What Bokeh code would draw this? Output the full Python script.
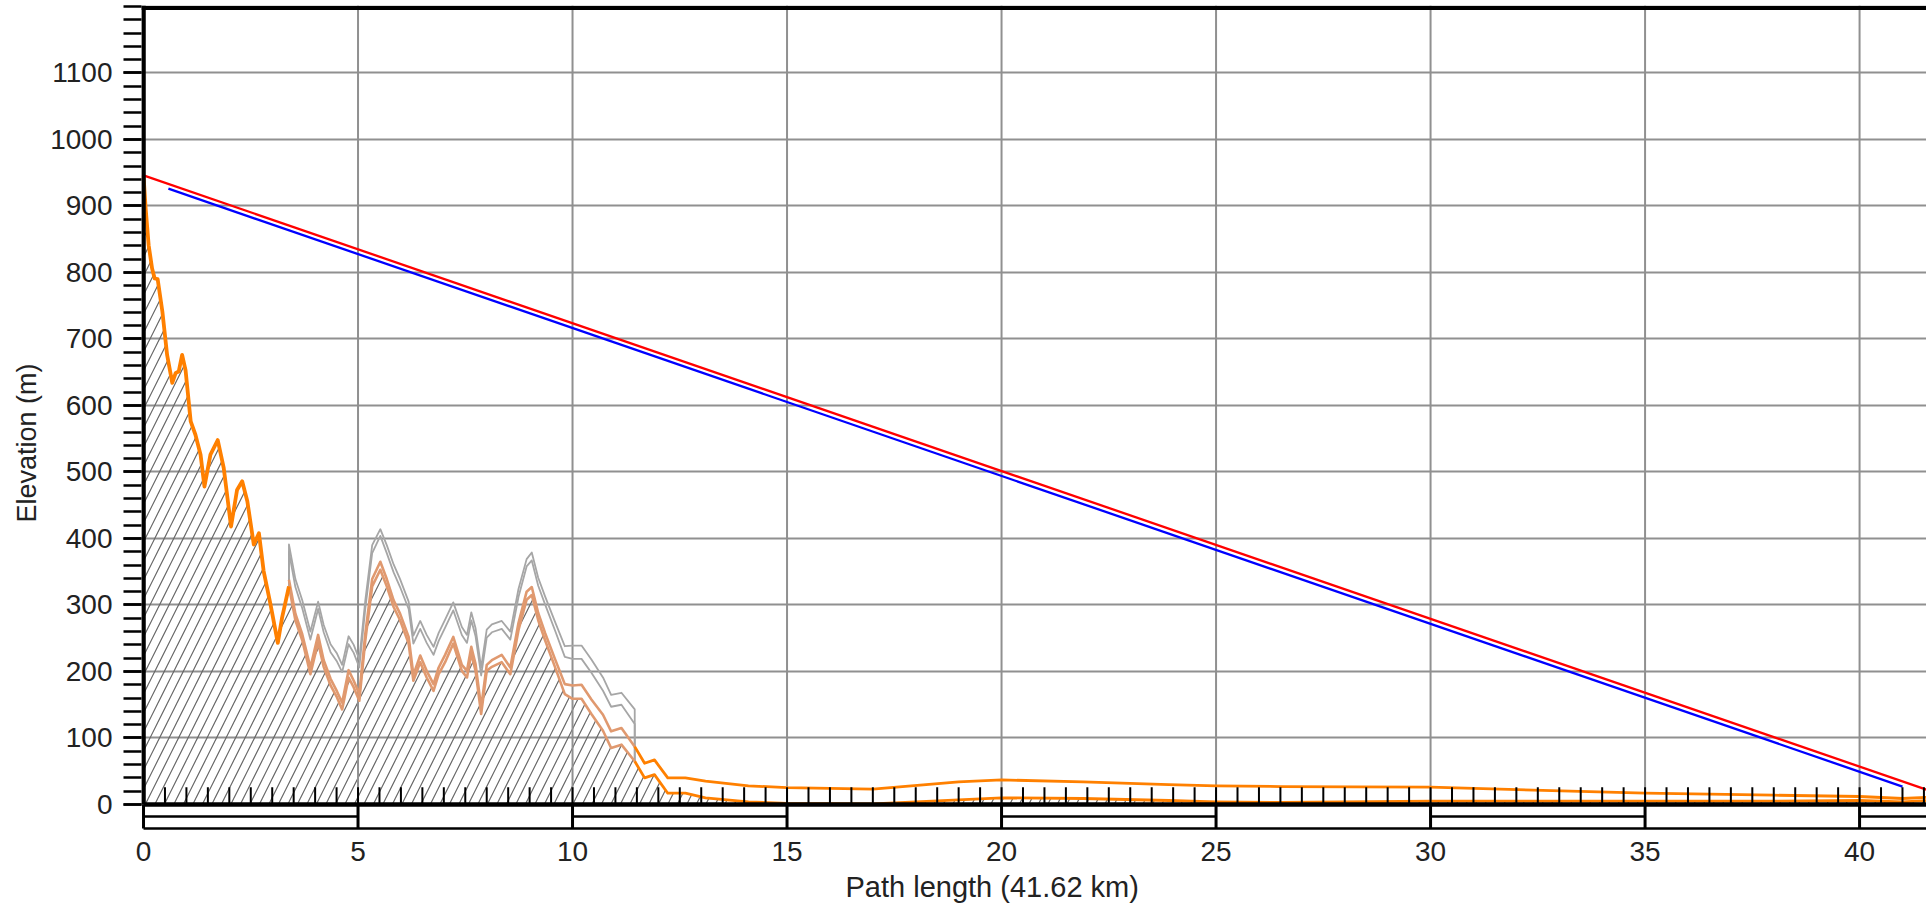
import numpy as np
from bokeh.plotting import figure
from bokeh.models import Range1d, FixedTicker, Title
from bokeh.embed import file_html
from bokeh.resources import INLINE

# ---------------- data ----------------
path_km = [0.00, 0.05, 0.12, 0.20, 0.26, 0.33, 0.44, 0.55, 0.67, 0.75,
           0.82, 0.90, 0.98, 1.10, 1.21, 1.33, 1.42, 1.56, 1.73, 1.87,
           2.04, 2.18, 2.30, 2.42, 2.57, 2.69, 2.80, 2.96, 3.13, 3.23,
           3.39,
           3.54, 3.70, 3.89, 4.07, 4.20, 4.36, 4.51, 4.63, 4.78, 4.90,
           5.03, 5.17, 5.33, 5.52, 5.67, 5.83, 5.98, 6.18, 6.29, 6.45,
           6.60, 6.76, 6.88, 7.03, 7.22, 7.42, 7.54, 7.64, 7.74, 7.87,
           8.00, 8.12, 8.35, 8.55, 8.74, 8.93, 9.05, 9.20, 9.36, 9.59,
           9.82, 10.00, 10.21, 10.44, 10.71, 10.90, 11.14, 11.45,
           11.68, 11.91, 12.22, 12.63, 13.10, 14.10, 15.00, 17.00, 19.00, 20.00,
           21.90, 23.90, 25.00, 26.50, 30.00, 35.00, 38.00, 40.00, 41.00, 41.62]

terrain_m = [946, 896, 841, 806, 791, 790, 741, 676, 634, 649,
             651, 676, 653, 576, 556, 526, 478, 526, 548, 506,
             418, 473, 486, 456, 391, 408, 351, 301, 243, 281,
             328,
             277, 247, 196, 244, 207, 179, 161, 143, 191, 176,
             156, 247, 328, 353, 328, 297, 277, 242, 186, 214,
             191, 171, 196, 214, 242, 201, 191, 227, 201, 136,
             201, 207, 214, 196, 262, 308, 315, 277, 247, 207,
             166, 159, 159, 136, 111, 85, 90, 65,
             40, 45, 17, 17, 10, 4, 1.5, 1, 7, 10,
             9, 6, 4, 3, 5, 5, 5, 6, 4, 6]

# second profile line above the terrain, from 3.39 km to the end (m above terrain)
upper_offset_m = [10,
                  10, 9, 10, 11, 10, 10, 9, 10, 11, 10,
                  10, 10, 11, 12, 11, 10, 10, 10, 9, 10,
                  10, 10, 10, 11, 10, 9, 10, 10, 10, 10,
                  9, 10, 11, 10, 11, 12, 12, 11, 11, 12,
                  15, 20, 21, 22, 24, 25, 25, 22,
                  22, 22, 23, 23, 25, 24, 24, 22, 27, 27,
                  25, 24, 24, 24, 21, 12, 9, 6, 5, 5]

# grey clutter lines from 3.39 km to 11.45 km (m above terrain)
gray_low_offset_m = [52, 50, 48, 52, 50, 52, 50, 54, 56, 50,
                     52, 50, 48, 50, 51, 50, 52, 50, 52, 56,
                     50, 52, 54, 50, 52, 50, 54, 52, 50, 52,
                     58, 50, 52, 50, 52, 50, 50, 52, 52, 54,
                     55, 56, 60, 60, 62, 60, 62, 60, 56]
gray_high_offset_m = [63, 62, 60, 64, 61, 63, 62, 66, 67, 62,
                      64, 62, 60, 62, 61, 62, 64, 62, 63, 68,
                      62, 64, 66, 62, 64, 62, 66, 64, 62, 64,
                      70, 62, 64, 62, 64, 62, 61, 64, 64, 66,
                      68, 72, 80, 80, 82, 80, 80, 78, 78]

red_km = [0.0, 41.62]
red_m = [946, 21]
blue_km = [0.58, 41.0]
blue_m = [926, 27]

x_tick_km = [0, 5, 10, 15, 20, 25, 30, 35, 40]
y_tick_m = [0, 100, 200, 300, 400, 500, 600, 700, 800, 900, 1000, 1100]
y_minor_tick_m = list(range(0, 1201, 20))
x_inner_tick_km = [0.5 * i for i in range(1, 84)]
scale_bar_km = [0, 5, 10, 15, 20, 25, 30, 35, 40, 41.62]

x_title = "Path length (41.62 km)"
y_title = "Elevation (m)"

# ---------------- build ----------------
km = np.array(path_km)
T = np.array(terrain_m, dtype=float)
ia = path_km.index(3.39)
ib = path_km.index(11.45)
U = T[ia:] + np.array(upper_offset_m)
kmU = km[ia:]
G_low = T[ia:ib + 1] + np.array(gray_low_offset_m)
G_high = T[ia:ib + 1] + np.array(gray_high_offset_m)
kmG = list(km[ia:ib + 1])

Y_TOP = 1201.5
Y_BOT = -39.1
SB_MID = -18
SB_BOT = -36

p = figure(width=1926, height=909,
           x_range=Range1d(-0.047, 41.56), y_range=Range1d(Y_BOT, Y_TOP),
           output_backend="svg", toolbar_location=None,
           min_border_left=141, min_border_right=0, min_border_top=5,
           min_border_bottom=79)
p.outline_line_color = None
p.background_fill_color = "white"
p.border_fill_color = "white"

FONT = "Liberation Sans"
TXT = "#222222"

# axes
xa = p.xaxis[0]
xa.ticker = FixedTicker(ticks=x_tick_km, minor_ticks=[])
xa.axis_line_color = None
xa.major_tick_line_color = None
xa.minor_tick_line_color = None
xa.major_tick_out = 0
xa.major_tick_in = 0
xa.minor_tick_out = 0
xa.minor_tick_in = 0
xa.major_label_text_font = FONT
xa.major_label_text_font_size = "28px"
xa.major_label_text_color = TXT
xa.major_label_standoff = 11

ya = p.yaxis[0]
ya.ticker = FixedTicker(ticks=y_tick_m, minor_ticks=y_minor_tick_m)
ya.axis_line_color = None
ya.major_tick_line_color = "black"
ya.minor_tick_line_color = "black"
ya.major_tick_line_width = 2.5
ya.minor_tick_line_width = 2.5
ya.major_tick_out = 18
ya.major_tick_in = 0
ya.minor_tick_out = 18
ya.minor_tick_in = 0
ya.major_label_text_font = FONT
ya.major_label_text_font_size = "28px"
ya.major_label_text_color = TXT
ya.major_label_standoff = 11

# axis titles as side titles (so they can be shifted along the axis)
p.add_layout(Title(text=x_title, align="left", offset=704, standoff=10,
                   text_font=FONT, text_font_size="29px", text_font_style="normal",
                   text_color=TXT), "below")
p.add_layout(Title(text=y_title, align="left", offset=308, standoff=12,
                   text_font=FONT, text_font_size="27px", text_font_style="normal",
                   text_color=TXT), "left")

p.xgrid.visible = False
p.ygrid.ticker = FixedTicker(ticks=y_tick_m, minor_ticks=[])
p.ygrid.grid_line_color = "#909090"
p.ygrid.grid_line_width = 2

GRID = "#909090"

# hatched terrain
p.varea(x=km, y1=0, y2=T, fill_color=None, fill_alpha=0,
        hatch_pattern="/", hatch_color="#666666", hatch_weight=1.2, hatch_scale=19)

# vertical grid lines
vx = x_tick_km[1:]
p.segment(x0=vx, y0=[0] * len(vx), x1=vx, y1=[Y_TOP] * len(vx),
          line_color=GRID, line_width=2)

# grey clutter lines
for G in (G_low, G_high):
    gx = [km[ia]] + kmG + [km[ib]]
    gy = [T[ia]] + list(G) + [T[ib]]
    p.line(gx, gy, line_color="#a6a6a6", line_width=1.8, line_join="round")

# tan parts (under clutter)
TAN = "#e0996f"
p.line(km[ia:ib + 1], T[ia:ib + 1], line_color=TAN, line_width=2.6, line_join="round")
p.line(kmU[:ib - ia + 1], U[:ib - ia + 1], line_color=TAN, line_width=2.6, line_join="round")

# orange parts
ORANGE = "#ff8000"
p.line(km[:ia + 1], T[:ia + 1], line_color=ORANGE, line_width=3.8, line_join="round")
p.line(km[ib:], T[ib:], line_color=ORANGE, line_width=2.8, line_join="round")
p.line(kmU[ib - ia:], U[ib - ia:], line_color=ORANGE, line_width=2.8, line_join="round")

# line-of-sight lines
p.line(red_km, red_m, line_color="#ff0000", line_width=2.3)
p.line(blue_km, blue_m, line_color="#0000ff", line_width=2.3)

# inner distance ticks
p.segment(x0=x_inner_tick_km, y0=[0] * len(x_inner_tick_km),
          x1=x_inner_tick_km, y1=[26] * len(x_inner_tick_km),
          line_color="black", line_width=2)

# scale bar below the profile
sb = scale_bar_km
p.segment(x0=[sb[0]], y0=[SB_BOT], x1=[sb[-1]], y1=[SB_BOT], line_color="black", line_width=2.6)
mid_x0 = sb[0:-1:2]
mid_x1 = sb[1::2]
p.segment(x0=mid_x0, y0=[SB_MID] * len(mid_x0), x1=mid_x1, y1=[SB_MID] * len(mid_x1),
          line_color="black", line_width=2.6)
p.segment(x0=sb, y0=[SB_BOT] * len(sb), x1=sb, y1=[0] * len(sb),
          line_color="black", line_width=3)

# frame lines
p.segment(x0=[0], y0=[0], x1=[sb[-1]], y1=[0], line_color="black", line_width=4.5)
p.segment(x0=[0], y0=[0], x1=[0], y1=[Y_TOP], line_color="black", line_width=4.5)
p.segment(x0=[-0.05], y0=[1197.8], x1=[sb[-1]], y1=[1197.8],
          line_color="black", line_width=4.2)

open("out.html", "w").write(file_html(p, INLINE))
